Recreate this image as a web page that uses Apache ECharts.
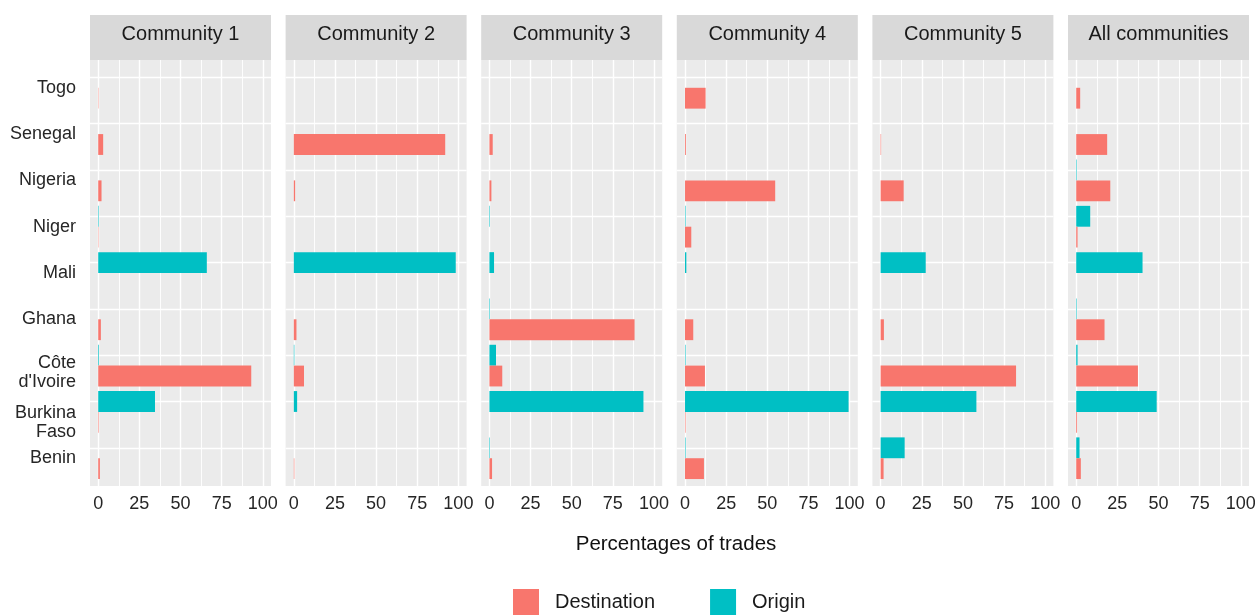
<!DOCTYPE html>
<html>
<head>
<meta charset="utf-8">
<script src="https://cdn.jsdelivr.net/npm/echarts@6/dist/echarts.min.js"></script>
<style>html,body{margin:0;padding:0;background:#fff}#c{width:1255px;height:615px}</style>
</head>
<body>
<div id="c"></div>
<script>
// ---- data ----
const countries = ['Togo', 'Senegal', 'Nigeria', 'Niger', 'Mali', 'Ghana', "Côte d'Ivoire", 'Burkina Faso', 'Benin'];
const countryLabels = ['Togo', 'Senegal', 'Nigeria', 'Niger', 'Mali', 'Ghana', "Côte\nd'Ivoire", 'Burkina\nFaso', 'Benin'];
const panelNames = ['Community 1', 'Community 2', 'Community 3', 'Community 4', 'Community 5', 'All communities'];
const seriesNames = ['Destination', 'Origin'];
const xTickValues = [0, 25, 50, 75, 100];
const xMinorValues = [12.5, 37.5, 62.5, 87.5];
const axisTitle = 'Percentages of trades';

const destC1 = [0.2, 3, 2, 0.2, 0, 1.6, 93, 0.3, 1];
const origC1 = [0, 0, 0, 0.3, 66, 0, 0.4, 34.5, 0];
const destC2 = [0, 92, 0.8, 0, 0, 1.6, 6.2, 0, 0.3];
const origC2 = [0, 0, 0, 0, 98.4, 0, 0.3, 2, 0];
const destC3 = [0, 2, 1.2, 0, 0, 88.2, 7.8, 0, 1.6];
const origC3 = [0, 0, 0, 0.3, 2.8, 0.3, 4, 93.6, 0.3];
const destC4 = [12.5, 0.5, 54.8, 3.8, 0, 5, 12.1, 0.3, 11.5];
const origC4 = [0, 0, 0, 0.3, 0.8, 0, 0.3, 99.4, 0.3];
const destC5 = [0, 0.3, 14, 0, 0, 2, 82.3, 0, 1.8];
const origC5 = [0, 0, 0, 0, 27.4, 0, 0, 58.2, 14.6];
const destAll = [2.4, 18.8, 20.7, 0.8, 0, 17.2, 37.5, 0.5, 2.8];
const origAll = [0, 0, 0.3, 8.5, 40.3, 0.3, 0.8, 48.9, 2];

const destination = [destC1, destC2, destC3, destC4, destC5, destAll];
const origin = [origC1, origC2, origC3, origC4, origC5, origAll];

// ---- layout / style ----
const FONT = '"Liberation Sans", Arial, Helvetica, sans-serif';
const colDest = '#F8766D', colOrig = '#00BFC4';
const panelLeft0 = 90, panelStep = 195.6, panelW = 181;
const plotTop = 60, plotH = 426;
const stripTop = 15, stripH = 45;
const pad = 0.1 * plotH / 9.2;
const textCol = '#262626';

const grids = [], xAxes = [], yAxes = [], series = [], graphics = [];

function labelFormatter(v, idx) {
  const lab = countryLabels[idx];
  if (lab.indexOf('\n') < 0) return '{a|' + lab + '}';
  const spacer = idx === 7 ? 's2' : 's1';
  return '{' + spacer + '| }\n' + lab.split('\n').map(p => '{a|' + p + '}').join('\n');
}

panelNames.forEach((name, i) => {
  const L = panelLeft0 + i * panelStep;
  grids.push({left: L, top: plotTop, width: panelW, height: plotH, show: true,
    backgroundColor: '#EBEBEB', borderWidth: 0, outerBoundsMode: 'none', containLabel: false});
  grids.push({left: L, top: plotTop + pad, width: panelW, height: plotH - 2 * pad,
    show: false, outerBoundsMode: 'none', containLabel: false});

  xAxes.push({gridIndex: 2 * i, type: 'value', min: -5, max: 105,
    axisLine: {show: false}, axisTick: {show: false}, splitLine: {show: false},
    axisLabel: {customValues: xTickValues, fontSize: 18, color: textCol, fontFamily: FONT, margin: 9}});
  xAxes.push({gridIndex: 2 * i + 1, type: 'value', min: -5, max: 105, show: false,
    splitLine: {show: false}});

  yAxes.push({gridIndex: 2 * i, type: 'value', min: 0, max: 1, show: false, splitLine: {show: false}});
  yAxes.push({gridIndex: 2 * i + 1, type: 'category', data: countries, inverse: true,
    axisLine: {show: false}, axisTick: {show: false}, splitLine: {show: false},
    axisLabel: {show: i === 0, margin: 14, formatter: labelFormatter,
      rich: {
        a: {fontSize: 18, color: textCol, fontFamily: FONT, lineHeight: 18.5, align: 'right'},
        s1: {fontSize: 4, lineHeight: 14},
        s2: {fontSize: 4, lineHeight: 21}
      }}});

  series.push({type: 'scatter', xAxisIndex: 2 * i, yAxisIndex: 2 * i, data: [], silent: true,
    markLine: {silent: true, symbol: ['none', 'none'], label: {show: false}, z: 1, animation: false,
      emphasis: {disabled: true}, lineStyle: {color: '#FFFFFF', width: 1.4, type: 'solid'},
      data: xTickValues.map(v => ({xAxis: v, lineStyle: {color: '#FFFFFF', width: 1.4, type: 'solid'}}))
        .concat(xMinorValues.map(v => ({xAxis: v, lineStyle: {color: '#FFFFFF', width: 0.9, type: 'solid'}})))}});

  series.push({name: seriesNames[1], type: 'bar', xAxisIndex: 2 * i + 1, yAxisIndex: 2 * i + 1,
    data: origin[i], barGap: '0%', barCategoryGap: '10%', itemStyle: {color: colOrig}, z: 2,
    markLine: {silent: true, symbol: ['none', 'none'], label: {show: false}, z: 1, animation: false,
      emphasis: {disabled: true}, lineStyle: {color: '#FFFFFF', width: 1.4, type: 'solid'},
      data: countries.map((c, k) => ({yAxis: k, lineStyle: {color: '#FFFFFF', width: 1.4, type: 'solid'}}))}});
  series.push({name: seriesNames[0], type: 'bar', xAxisIndex: 2 * i + 1, yAxisIndex: 2 * i + 1,
    data: destination[i], barGap: '0%', barCategoryGap: '10%', itemStyle: {color: colDest}, z: 2});

  graphics.push({type: 'rect', shape: {x: L, y: stripTop, width: panelW, height: stripH},
    style: {fill: '#D9D9D9'}, silent: true, z: 0});
  graphics.push({type: 'text', x: L + panelW / 2, y: 34, silent: true, z: 1,
    style: {text: name, fill: '#1A1A1A', font: '20px ' + FONT, align: 'center', verticalAlign: 'middle'}});
});

graphics.push({type: 'text', x: 676, y: 544, silent: true,
  style: {text: axisTitle, fill: '#111', font: '20.5px ' + FONT, align: 'center', verticalAlign: 'middle'}});

const chart = echarts.init(document.getElementById('c'), null, {renderer: 'canvas'});
chart.setOption({
  animation: false,
  backgroundColor: '#FFFFFF',
  textStyle: {fontFamily: FONT},
  grid: grids,
  xAxis: xAxes,
  yAxis: yAxes,
  series: series,
  graphic: graphics,
  legend: {data: seriesNames, left: 513, top: 589, orient: 'horizontal', itemWidth: 26, itemHeight: 26,
    itemGap: 55, icon: 'rect', selectedMode: false, padding: 0,
    textStyle: {fontSize: 20, color: '#1A1A1A', fontFamily: FONT, padding: [0, 0, 0, 11]}},
  tooltip: {show: false}
});
</script>
</body>
</html>
